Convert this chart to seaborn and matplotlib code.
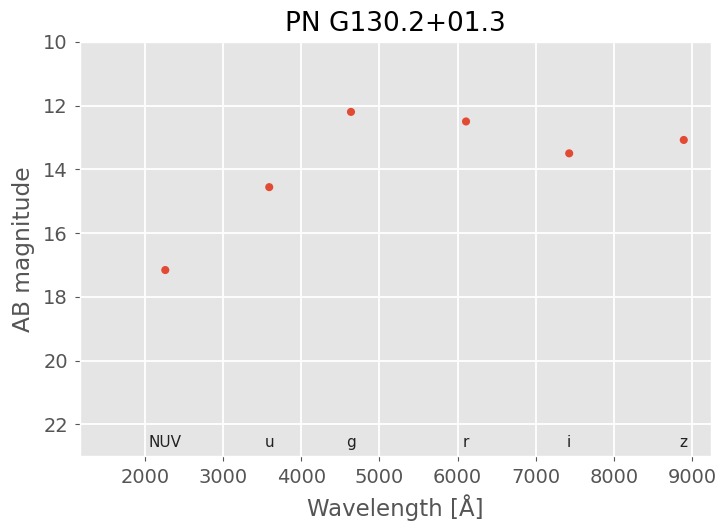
import matplotlib
matplotlib.use("Agg")
import matplotlib.pyplot as plt
import seaborn as sns
import pandas as pd

bands = ["NUV", "u", "g", "r", "i", "z"]
wavelength = [2260, 3590, 4636, 6108, 7428, 8894]
magnitude = [17.16, 14.56, 12.2, 12.5, 13.5, 13.08]

plt.style.use("ggplot")
df = pd.DataFrame({"wavelength": wavelength, "magnitude": magnitude, "band": bands})

fig = plt.figure(figsize=(7.18, 5.22), dpi=100)
ax = fig.add_axes([0.111, 0.126, 0.879, 0.794])
sns.scatterplot(data=df, x="wavelength", y="magnitude", ax=ax,
                color="#E24A33", s=34, edgecolor="none", linewidth=0)
for b, w in zip(bands, wavelength):
    ax.text(w, 22.72, b, ha="center", va="baseline", fontsize=11, color="#222222")

ax.set_xlim(1165, 9240)
ax.set_ylim(23, 10)
ax.set_yticks([10, 12, 14, 16, 18, 20, 22])
ax.set_xticks([2000, 3000, 4000, 5000, 6000, 7000, 8000, 9000])
ax.grid(True, color="white", linewidth=1.3)
ax.tick_params(labelsize=14, colors="#555555", pad=5)
ax.set_xlabel("Wavelength [Å]", fontsize=16.5, color="#555555", labelpad=5)
ax.set_ylabel("AB magnitude", fontsize=16.8, color="#555555", labelpad=6)
ax.set_title("PN G130.2+01.3", fontsize=19, color="black", pad=8)
fig.savefig("out.png", dpi=100)
